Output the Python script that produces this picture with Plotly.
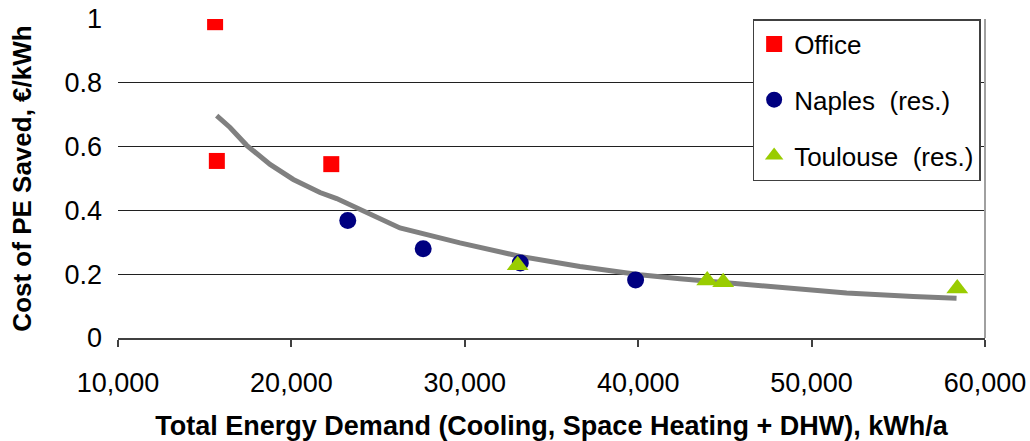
import plotly.graph_objects as go

office_x = [15600, 15700, 22300]
office_y = [0.99, 0.555, 0.545]
naples_x = [23250, 27600, 33200, 39850]
naples_y = [0.368, 0.28, 0.235, 0.182]
toulouse_x = [33050, 43980, 44900, 58400]
toulouse_y = [0.228, 0.18, 0.175, 0.155]
trend_x = [15690, 16460, 17420, 18770, 20110, 21650, 22610, 25110, 26260, 29720,
           33180, 36640, 40100, 42410, 44330, 48180, 52020, 55860, 58360]
trend_y = [0.697, 0.660, 0.604, 0.544, 0.497, 0.456, 0.437, 0.376, 0.345, 0.298,
           0.256, 0.224, 0.198, 0.186, 0.177, 0.156, 0.141, 0.130, 0.125]
x_ticks = [10000, 20000, 30000, 40000, 50000, 60000]
y_ticks = [0, 0.2, 0.4, 0.6, 0.8, 1]
y_labels = ["0", "0.2", "0.4", "0.6", "0.8", "1"]

fig = go.Figure()
fig.add_trace(go.Scatter(x=trend_x, y=trend_y, mode="lines", showlegend=False,
                         line=dict(color="#808080", width=5)))
fig.add_trace(go.Scatter(x=office_x, y=office_y, mode="markers", name="Office",
                         legendgroup="a",
                         marker=dict(symbol="square", size=16, color="#FF0000")))
fig.add_trace(go.Scatter(x=naples_x, y=naples_y, mode="markers",
                         name="Naples\u00a0 (res.)", legendgroup="b",
                         marker=dict(symbol="circle", size=17, color="#000080")))
fig.add_trace(go.Scatter(x=toulouse_x, y=toulouse_y, mode="markers",
                         name="Toulouse\u00a0 (res.)", legendgroup="c",
                         marker=dict(symbol="triangle-up", size=19, color="#99CC00")))

fig.add_shape(type="line", xref="paper", yref="paper", x0=1, x1=1, y0=0, y1=1,
              line=dict(color="#A0A0A0", width=2))

fig.update_layout(
    width=1030, height=441,
    margin=dict(l=118, r=45, t=19, b=103),
    paper_bgcolor="white", plot_bgcolor="white",
    font=dict(family="Liberation Sans, Arial", size=26, color="black"),
    showlegend=True,
    legend=dict(x=0.732, y=1, xanchor="left", yanchor="top",
                bgcolor="white", bordercolor="#404040", borderwidth=1.5,
                font=dict(size=26), tracegroupgap=19, traceorder="grouped"),
    xaxis=dict(range=[10000, 60000], tickvals=x_ticks, tickformat=",d",
               showgrid=False, showline=True, linecolor="#404040", linewidth=1.5,
               ticks="outside", ticklen=7, tickcolor="#404040", tickwidth=1.5,
               zeroline=False, tickfont=dict(size=27), automargin=False,
               ticklabelstandoff=13,
               title=dict(text="<b>Total Energy Demand (Cooling, Space Heating + DHW), kWh/a</b>",
                          font=dict(size=27), standoff=22)),
    yaxis=dict(range=[0, 1], tickvals=y_ticks, ticktext=y_labels,
               showgrid=True, gridcolor="#202020", gridwidth=1,
               showline=False, zeroline=False, ticks="", ticklabelstandoff=15,
               tickfont=dict(size=27), automargin=False,
               title=dict(text="<b>Cost of PE Saved, €/kWh</b>", font=dict(size=26),
                          standoff=25)),
)

fig.write_html("out.html", config={"displayModeBar": False},
               post_script="document.body.style.margin='0';document.body.style.overflow='hidden';")
